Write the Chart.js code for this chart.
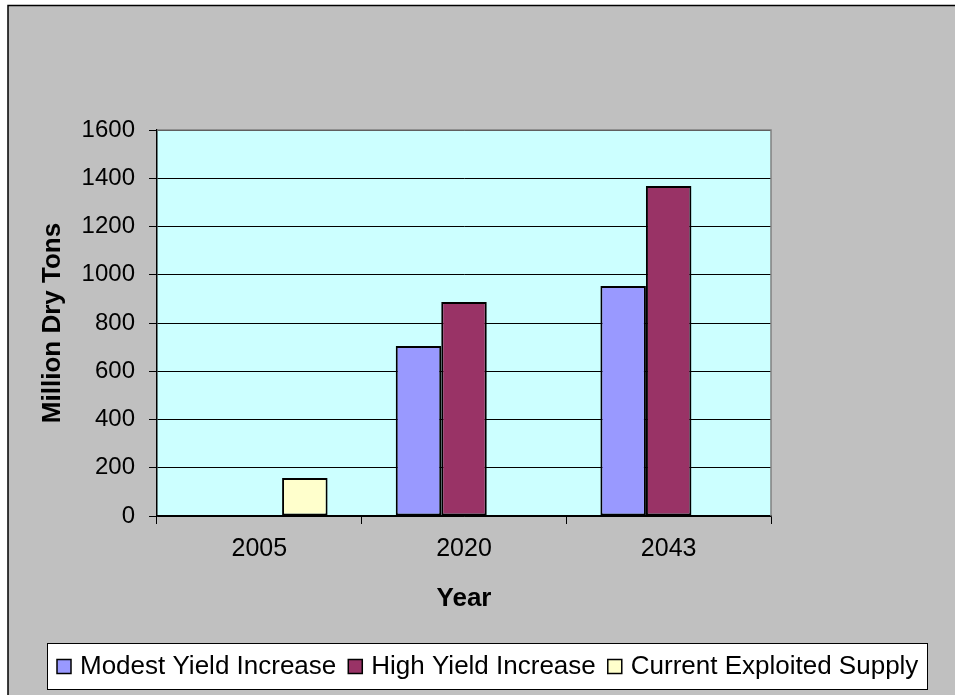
<!DOCTYPE html>
<html>
<head>
<meta charset="utf-8">
<script src="https://cdn.jsdelivr.net/npm/chart.js@4"></script>
<style>
  body { margin: 0; background: #ffffff; }
  #wrap { width: 955px; height: 695px; }
</style>
</head>
<body>
<div id="wrap"><canvas id="myChart" width="955" height="695"></canvas></div>
<script>
const years = ['2005', '2020', '2043']
const modestYield = [null, 705, 953]
const highYield = [null, 887, 1368]
const currentSupply = [158, null, null]
const yTicks = [0, 200, 400, 600, 800, 1000, 1200, 1400, 1600]

const FONT = "'Liberation Sans', Arial, sans-serif"

// gray frame, plot background, plot border and the boxed legend
const excelLook = {
    id: 'excelLook',
    beforeDraw(chart) {
        const c = chart.ctx
        const a = chart.chartArea
        c.save()
        c.fillStyle = '#ffffff'
        c.fillRect(0, 0, chart.width, chart.height)
        c.fillStyle = '#c0c0c0'
        c.fillRect(8, 5, chart.width - 8, chart.height - 5)
        c.strokeStyle = '#000'
        c.lineWidth = 1.5
        c.beginPath()
        c.moveTo(8, chart.height)
        c.lineTo(8, 5.5)
        c.lineTo(chart.width, 5.5)
        c.stroke()
        c.fillStyle = '#ccffff'
        c.fillRect(a.left, a.top, a.right - a.left, a.bottom - a.top)
        c.restore()
    },
    afterDraw(chart) {
        const c = chart.ctx
        const a = chart.chartArea
        c.save()
        c.strokeStyle = '#808080'
        c.lineWidth = 1.5
        c.beginPath()
        c.moveTo(a.left, a.top)
        c.lineTo(a.right, a.top)
        c.lineTo(a.right, a.bottom)
        c.stroke()

        // legend
        c.fillStyle = '#ffffff'
        c.fillRect(47.5, 643.5, 880, 46)
        c.strokeStyle = '#000'
        c.lineWidth = 1
        c.strokeRect(47.5, 643.5, 880, 46)
        c.font = '26px ' + FONT
        c.textBaseline = 'middle'
        let x = 57
        chart.data.datasets.forEach(ds => {
            c.fillStyle = ds.backgroundColor
            c.fillRect(x, 659.5, 14, 14)
            c.strokeStyle = '#000'
            c.lineWidth = 1.5
            c.strokeRect(x, 659.5, 14, 14)
            c.fillStyle = '#000'
            c.fillText(ds.label, x + 23, 667)
            x += 23 + c.measureText(ds.label).width + 12
        })
        c.restore()
    }
}

const ctx = document.getElementById('myChart')

new Chart(ctx, {
    type: 'bar',
    data: {
        labels: years,
        datasets: [{
            label: 'Modest Yield Increase',
            data: modestYield,
            backgroundColor: '#9999ff'
        }, {
            label: 'High Yield Increase',
            data: highYield,
            backgroundColor: '#993366'
        }, {
            label: 'Current Exploited Supply',
            data: currentSupply,
            backgroundColor: '#ffffcc'
        }]
    },
    options: {
        responsive: false,
        animation: false,
        layout: { padding: { left: 0, top: 130, right: 184, bottom: 0 } },
        datasets: {
            bar: {
                categoryPercentage: 0.667,
                barPercentage: 1,
                borderColor: '#000',
                borderWidth: 2,
                borderSkipped: false
            }
        },
        plugins: {
            legend: { display: false },
            tooltip: { enabled: false }
        },
        scales: {
            x: {
                afterFit: s => { s.height = 179 },
                grid: {
                    offset: true,
                    drawOnChartArea: false,
                    color: '#000',
                    tickLength: 8
                },
                border: { color: '#000', width: 1.5 },
                ticks: {
                    color: '#000',
                    padding: 10,
                    font: { family: FONT, size: 25 }
                },
                title: {
                    display: true,
                    text: 'Year',
                    color: '#000',
                    padding: { top: 0, bottom: 81 },
                    font: { family: FONT, size: 26, weight: 'bold' }
                }
            },
            y: {
                min: 0,
                max: 1600,
                afterFit: s => { s.width = 157 },
                afterBuildTicks: s => { s.ticks = yTicks.map(v => ({ value: v })) },
                grid: {
                    color: '#000',
                    lineWidth: 1,
                    tickLength: 8
                },
                border: { color: '#000', width: 1.5 },
                ticks: {
                    color: '#000',
                    padding: 14,
                    font: { family: FONT, size: 24 },
                    callback: v => String(v)
                },
                title: {
                    display: true,
                    text: 'Million Dry Tons',
                    color: '#000',
                    padding: { top: 37, bottom: 0 },
                    font: { family: FONT, size: 26, weight: 'bold' }
                }
            }
        }
    },
    plugins: [excelLook]
})
</script>
</body>
</html>
